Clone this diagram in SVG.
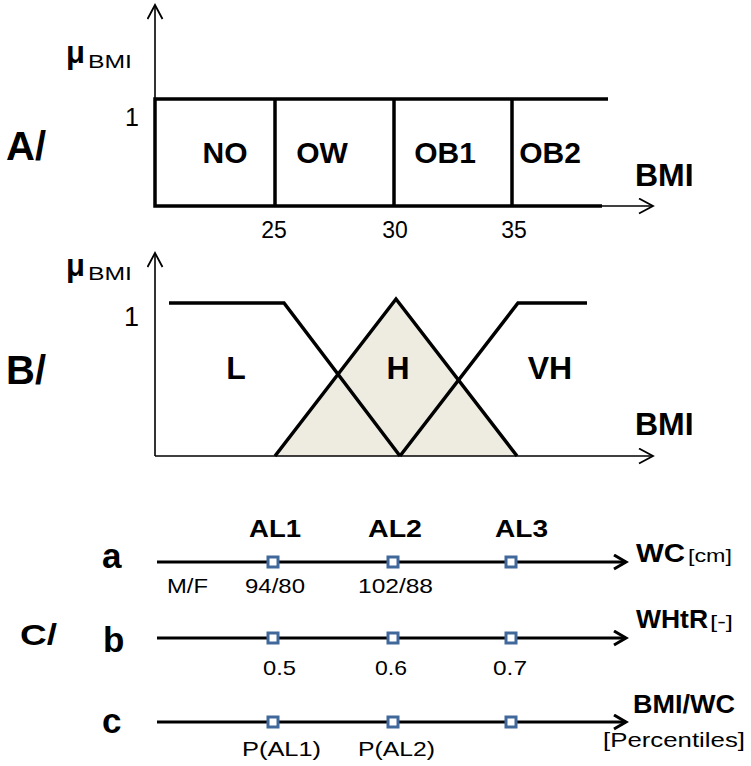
<svg xmlns="http://www.w3.org/2000/svg" width="751" height="766" viewBox="0 0 751 766">
  <style>
    text { font-family: "Liberation Sans", Arial, sans-serif; fill: #000; }
    .b { font-weight: bold; }
    .axis { fill: none; stroke: #000; stroke-width: 1.6; }
    .thick { fill: none; stroke: #000; stroke-width: 3.5; stroke-linejoin: miter; }
    .cline { fill: none; stroke: #000; stroke-width: 3; }
    .mark { fill: #fff; stroke: #41689a; stroke-width: 3; }
  </style>
  <defs>
    <marker id="openThin" markerUnits="userSpaceOnUse" markerWidth="20" markerHeight="20" refX="15" refY="8" orient="auto">
      <path d="M1,0.5 L15,8 L1,15.5" fill="none" stroke="#000" stroke-width="1.8"/>
    </marker>
    <marker id="openThick" markerUnits="userSpaceOnUse" markerWidth="20" markerHeight="20" refX="14" refY="8" orient="auto">
      <path d="M2,1 L14,8 L2,15" fill="none" stroke="#000" stroke-width="3"/>
    </marker>
  </defs>

  <!-- Panel A: crisp membership classes -->
  <g id="panelA">
    <line class="axis" x1="155" y1="206" x2="155" y2="5" marker-end="url(#openThin)"/>
    <line class="axis" x1="600" y1="206" x2="653" y2="206" marker-end="url(#openThin)"/>
    <path class="thick" d="M608,99 H155 V206 H602"/>
    <line class="thick" x1="275" y1="99" x2="275" y2="206"/>
    <line class="thick" x1="394" y1="99" x2="394" y2="206"/>
    <line class="thick" x1="512" y1="99" x2="512" y2="206"/>
    <text class="b" x="6" y="160" font-size="40">A/</text>
    <text class="b" x="66" y="63" font-size="31">μ</text>
    <text x="88" y="68" font-size="19" textLength="44" lengthAdjust="spacingAndGlyphs">BMI</text>
    <text x="139" y="126" font-size="25" text-anchor="end">1</text>
    <text class="b" x="225" y="163" font-size="30" text-anchor="middle">NO</text>
    <text class="b" x="322" y="163" font-size="30" text-anchor="middle">OW</text>
    <text class="b" x="445" y="163" font-size="30" text-anchor="middle">OB1</text>
    <text class="b" x="550" y="163" font-size="30" text-anchor="middle">OB2</text>
    <text class="b" x="635" y="186" font-size="32">BMI</text>
    <text x="274" y="238" font-size="23" text-anchor="middle">25</text>
    <text x="395" y="238" font-size="23" text-anchor="middle">30</text>
    <text x="514" y="238" font-size="23" text-anchor="middle">35</text>
  </g>

  <!-- Panel B: fuzzy membership functions -->
  <g id="panelB">
    <polygon points="275,456 396,299 517,456" fill="#eeece1"/>
    <line class="axis" x1="155" y1="456" x2="155" y2="253" marker-end="url(#openThin)"/>
    <line class="axis" x1="155" y1="456" x2="653" y2="456" marker-end="url(#openThin)"/>
    <polyline class="thick" points="169,303 284,303 400,456"/>
    <polyline class="thick" points="275,456 396,299 517,456"/>
    <polyline class="thick" points="400,456 518,303 587,303"/>
    <text class="b" x="6" y="384" font-size="40">B/</text>
    <text class="b" x="66" y="276" font-size="31">μ</text>
    <text x="88" y="280" font-size="19" textLength="44" lengthAdjust="spacingAndGlyphs">BMI</text>
    <text x="139" y="326" font-size="27" text-anchor="end">1</text>
    <text class="b" x="236" y="379" font-size="32" text-anchor="middle">L</text>
    <text class="b" x="398" y="379" font-size="32" text-anchor="middle">H</text>
    <text class="b" x="550" y="379" font-size="32" text-anchor="middle">VH</text>
    <text class="b" x="635" y="435" font-size="32">BMI</text>
  </g>

  <!-- Panel C: action levels on three scales -->
  <g id="panelC">
    <text class="b" x="20" y="645" font-size="30" textLength="37" lengthAdjust="spacingAndGlyphs">C/</text>

    <g id="scaleWC">
      <line class="cline" x1="157" y1="562" x2="626" y2="562" marker-end="url(#openThick)"/>
      <rect class="mark" x="268" y="557" width="10" height="10"/>
      <rect class="mark" x="388" y="557" width="10" height="10"/>
      <rect class="mark" x="506" y="557" width="10" height="10"/>
      <text class="b" x="102" y="568" font-size="35">a</text>
      <text class="b" x="249" y="537" font-size="24" textLength="52" lengthAdjust="spacingAndGlyphs">AL1</text>
      <text class="b" x="368" y="537" font-size="24" textLength="54" lengthAdjust="spacingAndGlyphs">AL2</text>
      <text class="b" x="495" y="537" font-size="24" textLength="53" lengthAdjust="spacingAndGlyphs">AL3</text>
      <text x="167" y="593" font-size="21" textLength="41" lengthAdjust="spacingAndGlyphs">M/F</text>
      <text x="245" y="593" font-size="21" textLength="60" lengthAdjust="spacingAndGlyphs">94/80</text>
      <text x="358" y="593" font-size="21" textLength="75" lengthAdjust="spacingAndGlyphs">102/88</text>
      <text class="b" x="636" y="562" font-size="25" textLength="49" lengthAdjust="spacingAndGlyphs">WC</text>
      <text x="688" y="562" font-size="19" textLength="44" lengthAdjust="spacingAndGlyphs">[cm]</text>
    </g>

    <g id="scaleWHtR">
      <line class="cline" x1="157" y1="638" x2="626" y2="638" marker-end="url(#openThick)"/>
      <rect class="mark" x="268" y="633" width="10" height="10"/>
      <rect class="mark" x="388" y="633" width="10" height="10"/>
      <rect class="mark" x="506" y="633" width="10" height="10"/>
      <text class="b" x="103" y="652" font-size="35">b</text>
      <text x="263" y="675" font-size="21" textLength="33" lengthAdjust="spacingAndGlyphs">0.5</text>
      <text x="375" y="675" font-size="21" textLength="32" lengthAdjust="spacingAndGlyphs">0.6</text>
      <text x="493" y="675" font-size="21" textLength="34" lengthAdjust="spacingAndGlyphs">0.7</text>
      <text class="b" x="636" y="628" font-size="25" textLength="72" lengthAdjust="spacingAndGlyphs">WHtR</text>
      <text x="710" y="628" font-size="19" textLength="23" lengthAdjust="spacingAndGlyphs">[-]</text>
    </g>

    <g id="scaleBMIWC">
      <line class="cline" x1="157" y1="722" x2="626" y2="722" marker-end="url(#openThick)"/>
      <rect class="mark" x="268" y="717" width="10" height="10"/>
      <rect class="mark" x="388" y="717" width="10" height="10"/>
      <rect class="mark" x="506" y="717" width="10" height="10"/>
      <text class="b" x="102" y="733" font-size="35">c</text>
      <text x="242" y="756" font-size="21" textLength="79" lengthAdjust="spacingAndGlyphs">P(AL1)</text>
      <text x="358" y="756" font-size="21" textLength="77" lengthAdjust="spacingAndGlyphs">P(AL2)</text>
      <text class="b" x="633" y="713" font-size="25" textLength="102" lengthAdjust="spacingAndGlyphs">BMI/WC</text>
      <text x="603" y="747" font-size="21" textLength="142" lengthAdjust="spacingAndGlyphs">[Percentiles]</text>
    </g>
  </g>
</svg>
